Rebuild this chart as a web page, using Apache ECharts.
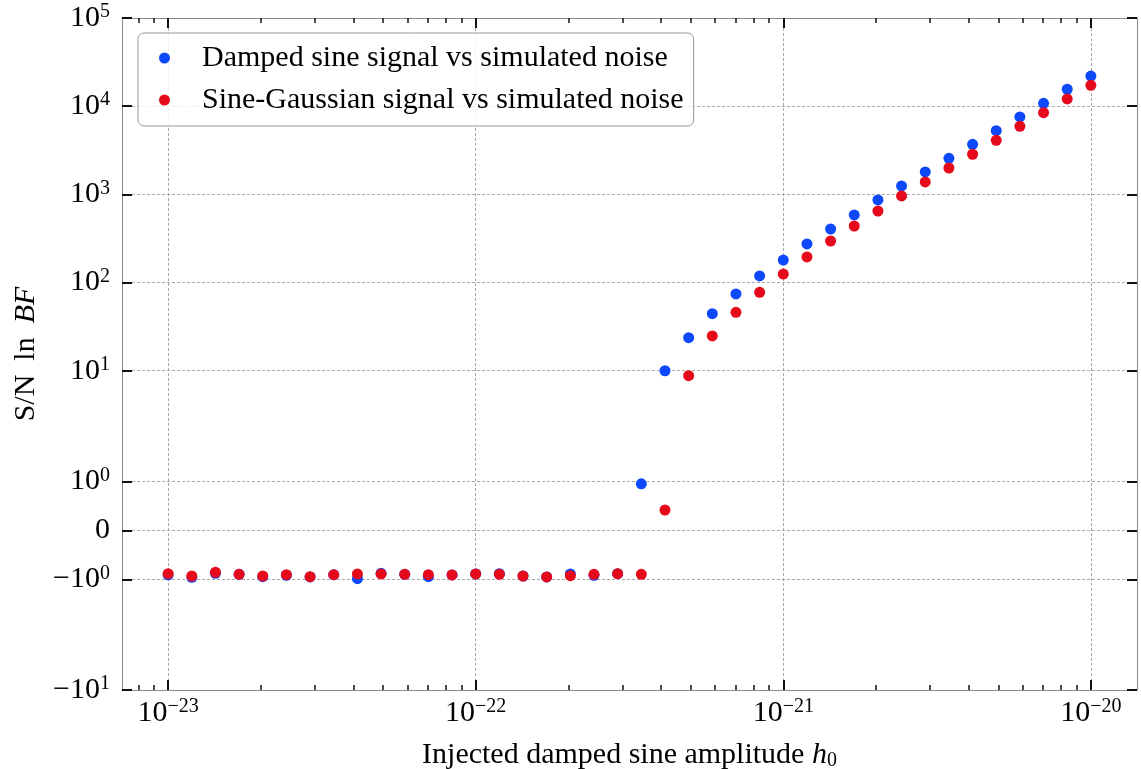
<!DOCTYPE html>
<html>
<head>
<meta charset="utf-8">
<title>S/N ln BF vs injected amplitude</title>
<script src="https://cdn.jsdelivr.net/npm/echarts@6/dist/echarts.min.js"></script>
<style>
  html, body { margin: 0; padding: 0; background: #fff; }
  #chart { width: 1141px; height: 769px; }
</style>
</head>
<body>
<div id="chart"></div>
<script>
// Injected damped sine amplitudes h0 (40 log-spaced injections, 1e-23 .. 1e-20)
const h0 = [
  1.000e-23, 1.194e-23, 1.425e-23, 1.701e-23, 2.031e-23, 2.424e-23, 2.894e-23, 3.455e-23,
  4.125e-23, 4.924e-23, 5.878e-23, 7.017e-23, 8.377e-23,
  1.000e-22, 1.194e-22, 1.425e-22, 1.701e-22, 2.031e-22, 2.424e-22, 2.894e-22, 3.455e-22,
  4.125e-22, 4.924e-22, 5.878e-22, 7.017e-22, 8.377e-22,
  1.000e-21, 1.194e-21, 1.425e-21, 1.701e-21, 2.031e-21, 2.424e-21, 2.894e-21, 3.455e-21,
  4.125e-21, 4.924e-21, 5.878e-21, 7.017e-21, 8.377e-21,
  1.000e-20
];

// S/N ln BF, damped sine signal vs simulated noise
const dampedSine = [
  -0.910, -0.957, -0.876, -0.896, -0.945, -0.916, -0.951, -0.904, -0.986, -0.876,
  -0.896, -0.945, -0.910, -0.890, -0.884, -0.931, -0.951, -0.890, -0.916, -0.884,
  0.95, 10.0, 23.7, 44.4, 74.3, 119, 180, 274, 405, 584,
  865, 1246, 1795, 2565, 3698, 5272, 7551, 10790, 15560, 21980
];

// S/N ln BF, sine-Gaussian signal vs simulated noise
const sineGaussian = [
  -0.884, -0.931, -0.855, -0.896, -0.931, -0.904, -0.945, -0.904, -0.890, -0.890,
  -0.896, -0.904, -0.910, -0.890, -0.896, -0.931, -0.951, -0.924, -0.896, -0.884,
  -0.896, 0.416, 8.8, 24.8, 46.0, 77.6, 125, 195, 296, 438,
  648, 960, 1383, 1991, 2851, 4104, 5916, 8437, 12080, 17260
];

const seriesNames = [
  'Damped sine signal vs simulated noise',
  'Sine-Gaussian signal vs simulated noise'
];

// Tick values and their labels ("^" marks a superscript)
const yTickValues = [-10, -1, 0, 1, 10, 100, 1000, 10000, 100000];
const yTickLabels = ['\u221210^1', '\u221210^0', '0', '10^0', '10^1', '10^2', '10^3', '10^4', '10^5'];
const xTickDecades = [-23, -22, -21, -20];
const xTickLabels = ['10^\u221223', '10^\u221222', '10^\u221221', '10^\u221220'];

const FONT = '"Liberation Serif", "Times New Roman", serif';
const BLUE = '#0d49fb';
const RED = '#e6091c';

// Symmetric log transform (linear within +-LINTHRESH), used for the y axis
const LINTHRESH = 2, LINSCALE = 1, BASE = 10;
const linAdj = LINSCALE / (1 - 1 / BASE);
function symlog(v) {
  const a = Math.abs(v);
  if (a <= LINTHRESH) return v * linAdj;
  return Math.sign(v) * LINTHRESH * (linAdj + Math.log(a / LINTHRESH) / Math.log(BASE));
}

const xMin = -23.15, xMax = -19.85;
const yMin = symlog(-10), yMax = symlog(1e5);

const yMajorT = yTickValues.map(symlog);
const xMinorT = [];
for (let d = -24; d <= -20; d++) {
  for (let k = 2; k <= 9; k++) {
    const v = d + Math.log10(k);
    if (v > xMin && v < xMax) xMinorT.push(v);
  }
}

function richText(s) {
  const parts = s.split('^');
  return parts.length === 1 ? '{b|' + parts[0] + '}' : '{b|' + parts[0] + '}{s|' + parts[1] + '}';
}
function pickLabel(values, labels) {
  return function (v) {
    for (let i = 0; i < values.length; i++) {
      if (Math.abs(values[i] - v) < 1e-6) return richText(labels[i]);
    }
    return '';
  };
}

const tickRich = {
  b: { fontFamily: FONT, fontSize: 30, color: '#000', lineHeight: 32 },
  s: { fontFamily: FONT, fontSize: 20, color: '#000', lineHeight: 20, verticalAlign: 'top' }
};

const spine = { show: true, onZero: false, lineStyle: { color: '#8a8a8a', width: 1 } };
const noSpine = { show: false, onZero: false };
const gridLine = { show: true, lineStyle: { color: '#a8a8a8', width: 1, type: [3, 2] } };
const majorTick = (vals) => ({ show: true, inside: true, length: 10, customValues: vals, lineStyle: { color: '#111', width: 2 } });
const minorTick = (vals) => ({ show: true, inside: true, length: 5, customValues: vals, lineStyle: { color: '#111', width: 1.5 } });

function pairs(ys) {
  return h0.map((x, i) => [Math.log10(x), symlog(ys[i])]);
}

const chart = echarts.init(document.getElementById('chart'), null, { renderer: 'canvas' });

chart.setOption({
  animation: false,
  backgroundColor: '#fff',
  grid: { left: 122, right: 4, top: 18, bottom: 79, containLabel: false, outerBoundsMode: 'none' },
  xAxis: [
    {
      type: 'value', position: 'bottom', min: xMin, max: xMax,
      axisLine: spine,
      axisTick: majorTick(xTickDecades),
      axisLabel: { customValues: xTickDecades, formatter: pickLabel(xTickDecades, xTickLabels), margin: 7, rich: tickRich },
      splitLine: gridLine,
      name: '{r|Injected damped sine amplitude }{i|h}{sub|0}',
      nameLocation: 'middle', nameGap: 49,
      nameTextStyle: {
        rich: {
          r: { fontFamily: FONT, fontSize: 30, color: '#000', lineHeight: 32 },
          i: { fontFamily: FONT, fontSize: 30, fontStyle: 'italic', color: '#000', lineHeight: 32 },
          sub: { fontFamily: FONT, fontSize: 20, color: '#000', lineHeight: 20, verticalAlign: 'bottom' }
        }
      }
    },
    {
      type: 'value', position: 'top', min: xMin, max: xMax,
      axisLine: spine, axisTick: majorTick(xTickDecades),
      axisLabel: { show: false }, splitLine: { show: false }
    },
    {
      type: 'value', position: 'bottom', min: xMin, max: xMax,
      axisLine: noSpine, axisTick: minorTick(xMinorT),
      axisLabel: { show: false }, splitLine: { show: false }
    },
    {
      type: 'value', position: 'top', min: xMin, max: xMax,
      axisLine: noSpine, axisTick: minorTick(xMinorT),
      axisLabel: { show: false }, splitLine: { show: false }
    }
  ],
  yAxis: [
    {
      type: 'value', position: 'left', min: yMin, max: yMax,
      axisLine: spine,
      axisTick: majorTick(yMajorT),
      axisLabel: { customValues: yMajorT, formatter: pickLabel(yMajorT, yTickLabels), margin: 12, rich: tickRich },
      splitLine: gridLine,
      name: '{r|S/N}{g| }{r|ln}{g| }{i|BF}',
      nameLocation: 'middle', nameGap: 80, nameRotate: 90,
      nameTextStyle: {
        rich: {
          r: { fontFamily: FONT, fontSize: 30, color: '#000', lineHeight: 32 },
          i: { fontFamily: FONT, fontSize: 30, fontStyle: 'italic', color: '#000', lineHeight: 32 },
          g: { fontFamily: FONT, fontSize: 30, width: 14, lineHeight: 32 }
        }
      }
    },
    {
      type: 'value', position: 'right', min: yMin, max: yMax,
      axisLine: spine, axisTick: majorTick(yMajorT),
      axisLabel: { show: false }, splitLine: { show: false }
    }
  ],
  legend: {
    data: seriesNames,
    orient: 'vertical', left: 138, top: 33,
    padding: [10, 10, 11, 21], itemGap: 12,
    itemWidth: 11, itemHeight: 11, icon: 'circle',
    backgroundColor: 'rgba(255,255,255,0.8)',
    borderColor: '#999', borderWidth: 1, borderRadius: 6,
    selectedMode: false,
    textStyle: { fontFamily: FONT, fontSize: 30, color: '#000', lineHeight: 30, padding: [0, 0, 0, 27] }
  },
  series: [
    {
      name: seriesNames[0], type: 'scatter', xAxisIndex: 0, yAxisIndex: 0,
      symbol: 'circle', symbolSize: 11,
      itemStyle: { color: BLUE, opacity: 1 },
      data: pairs(dampedSine)
    },
    {
      name: seriesNames[1], type: 'scatter', xAxisIndex: 0, yAxisIndex: 0,
      symbol: 'circle', symbolSize: 11,
      itemStyle: { color: RED, opacity: 1 },
      data: pairs(sineGaussian)
    }
  ]
});
</script>
</body>
</html>
